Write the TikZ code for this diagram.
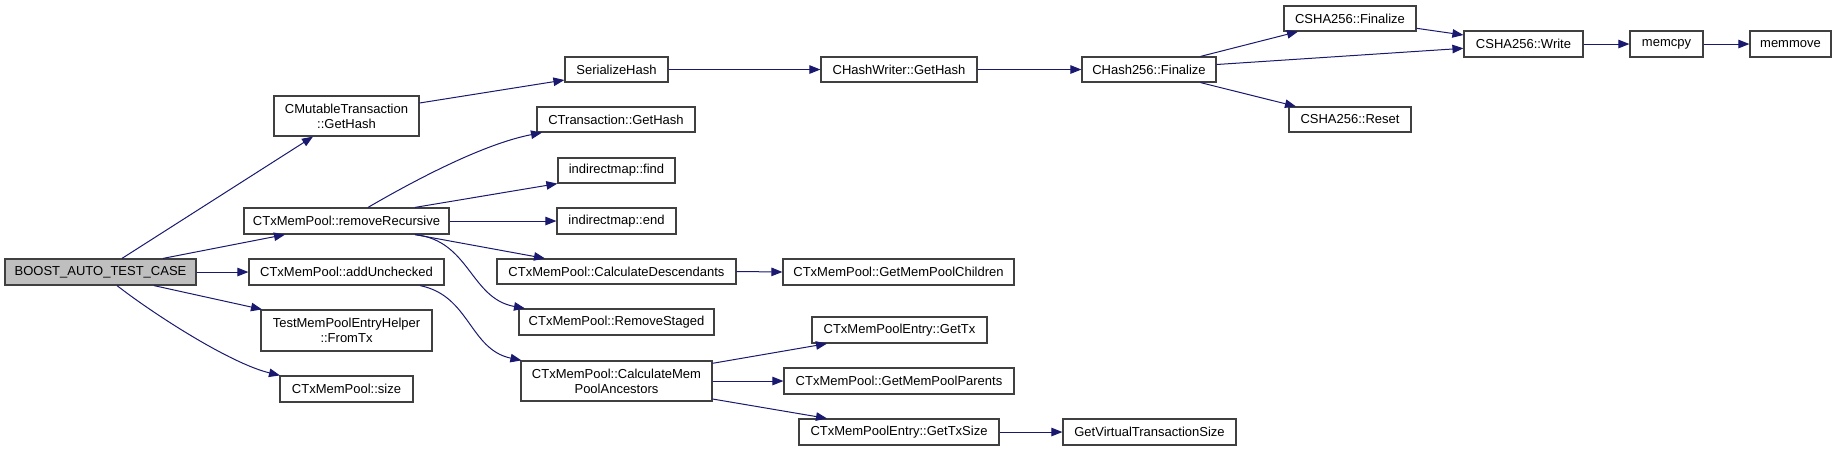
\documentclass[tikz,border=0pt]{standalone}
\usepackage{fontspec}
\setmainfont{Liberation Sans}
\usetikzlibrary{arrows.meta}
\definecolor{edgeblue}{HTML}{191970}
\definecolor{boxline}{HTML}{404040}
\definecolor{rootfill}{HTML}{BFBFBF}
\begin{document}
\begin{tikzpicture}[x=1pt,y=-1pt,
  fn/.style={draw=boxline,line width=1.2pt,rectangle,inner sep=0pt,
    minimum height=26pt,align=center,
    font=\fontsize{13}{15}\selectfont},
  call/.style={draw=edgeblue,line width=1pt,
    -{Triangle[length=11pt,width=8.5pt]}}]
\useasboundingbox (0,0) rectangle (1837,451);
% nodes
\node[fn,fill=rootfill,minimum width=191pt] (boost) at (100.5,272) {BOOST\_AUTO\_TEST\_CASE};
\node[fn,minimum width=145pt,minimum height=40pt] (cmut) at (346.5,116) {CMutableTransaction\\::GetHash};
\node[fn,minimum width=205pt] (remrec) at (346.5,221) {CTxMemPool::removeRecursive};
\node[fn,minimum width=195pt] (addunc) at (346.5,272) {CTxMemPool::addUnchecked};
\node[fn,minimum width=171pt,minimum height=41pt] (fromtx) at (346.5,330.5) {TestMemPoolEntryHelper\\::FromTx};
\node[fn,minimum width=133pt] (size) at (346.5,389) {CTxMemPool::size};
\node[fn,minimum width=103pt,minimum height=25pt] (serhash) at (616.5,69.5) {SerializeHash};
\node[fn,minimum width=158pt,minimum height=25pt] (ctxgethash) at (616,119.5) {CTransaction::GetHash};
\node[fn,minimum width=117pt,minimum height=25pt] (find) at (616.5,170.5) {indirectmap::find};
\node[fn,minimum width=119pt] (end) at (616.5,221) {indirectmap::end};
\node[fn,minimum width=239pt,minimum height=25pt] (calcdesc) at (616.5,271.5) {CTxMemPool::CalculateDescendants};
\node[fn,minimum width=195pt] (remstaged) at (616.5,322) {CTxMemPool::RemoveStaged};
\node[fn,minimum width=191pt,minimum height=40pt] (calcanc) at (616.5,381) {CTxMemPool::CalculateMem\\PoolAncestors};
\node[fn,minimum width=156pt,minimum height=25pt] (chw) at (899,69.5) {CHashWriter::GetHash};
\node[fn,minimum width=231pt] (children) at (898.5,272) {CTxMemPool::GetMemPoolChildren};
\node[fn,minimum width=175pt] (gettx) at (899.5,330) {CTxMemPoolEntry::GetTx};
\node[fn,minimum width=230pt] (parents) at (899,381) {CTxMemPool::GetMemPoolParents};
\node[fn,minimum width=200pt] (gettxsize) at (899,432) {CTxMemPoolEntry::GetTxSize};
\node[fn,minimum width=134pt,minimum height=25pt] (ch256) at (1149,69.5) {CHash256::Finalize};
\node[fn,minimum width=173pt] (vts) at (1149.5,432) {GetVirtualTransactionSize};
\node[fn,minimum width=132pt,minimum height=25pt] (shafin) at (1350,18.5) {CSHA256::Finalize};
\node[fn,minimum width=122pt,minimum height=25pt] (shareset) at (1350,119.5) {CSHA256::Reset};
\node[fn,minimum width=119pt] (write) at (1523.5,44) {CSHA256::Write};
\node[fn,minimum width=73pt] (memcpy) at (1666.5,44) {memcpy};
\node[fn,minimum width=81pt] (memmove) at (1790.5,44) {memmove};
% edges
\draw[call] ([xshift=21.5pt]boost.north) -- ([xshift=-33.5pt]cmut.south);
\draw[call] ([xshift=62.5pt]boost.north) -- ([xshift=-61.5pt]remrec.south);
\draw[call] (boost.east) -- (addunc.west);
\draw[call] ([xshift=53.5pt]boost.south) -- ([xshift=-84.5pt]fromtx.north);
\draw[call] ([xshift=16.5pt]boost.south) .. controls +(36,28) and +(-50,-12) .. ([xshift=-66.5pt]size.north);
\draw[call] ([yshift=13pt]cmut.east) -- ([yshift=-10.5pt]serhash.west);
\draw[call] ([xshift=21.5pt]remrec.north) .. controls +(62,-36) and +(-52,10) .. ([xshift=-74pt]ctxgethash.south);
\draw[call] ([xshift=68.5pt]remrec.north) -- (find.south west);
\draw[call] (remrec.east) -- (end.west);
\draw[call] ([xshift=68.5pt]remrec.south) -- ([xshift=-71.5pt]calcdesc.north);
\draw[call] ([xshift=68.5pt]remrec.south) .. controls +(55,6) and +(-55,-10) .. ([xshift=-91.5pt]remstaged.north);
\draw[call] ([xshift=73.5pt]addunc.south) .. controls +(50,10) and +(-52,-11) .. ([xshift=1pt]calcanc.north west);
\draw[call] (serhash.east) -- (chw.west);
\draw[call] (chw.east) -- (ch256.west);
\draw[call] ([xshift=51.5pt]ch256.north) -- ([xshift=-52pt]shafin.south);
\draw[call] ([yshift=5pt]ch256.east) -- ([yshift=-4.3pt]write.west);
\draw[call] ([xshift=51.5pt]ch256.south) -- ([xshift=-54pt]shareset.north);
\draw[call] ([yshift=-9.8pt]shafin.east) -- ([yshift=9pt]write.west);
\draw[call] (write.east) -- (memcpy.west);
\draw[call] (memcpy.east) -- (memmove.west);
\draw[call] (calcdesc.east) -- (children.west);
\draw[call] ([yshift=17.7pt]calcanc.east) -- ([xshift=-72.5pt]gettx.south);
\draw[call] (calcanc.east) -- (parents.west);
\draw[call] ([yshift=-18pt]calcanc.east) -- ([xshift=-72pt]gettxsize.north);
\draw[call] (gettxsize.east) -- (vts.west);
\end{tikzpicture}
\end{document}
